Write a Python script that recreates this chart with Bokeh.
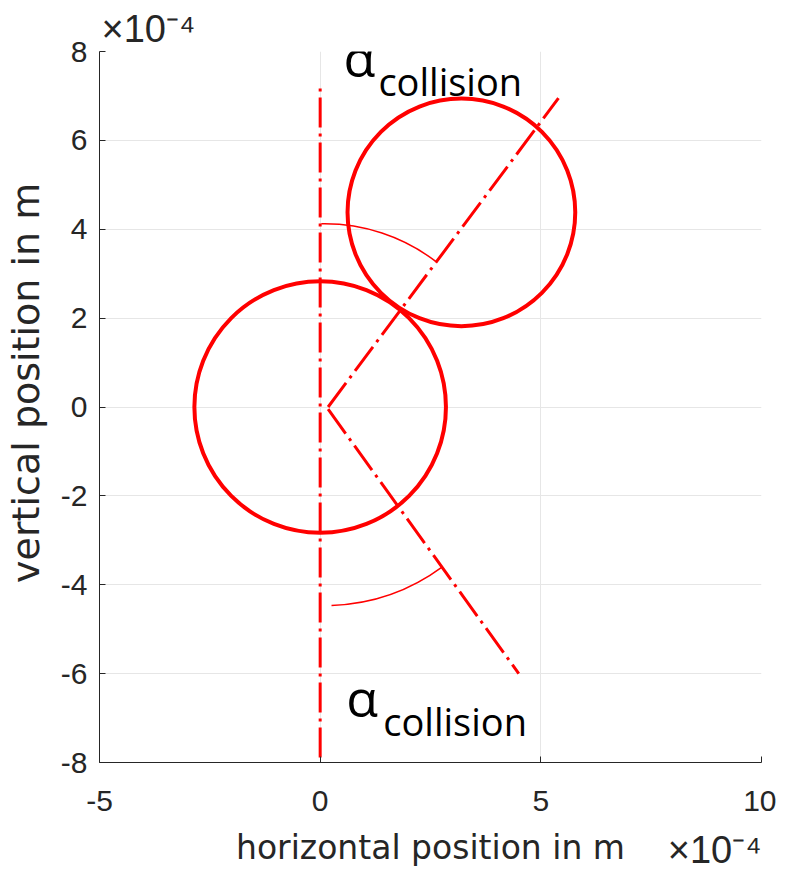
import numpy as np
from bokeh.plotting import figure
from bokeh.models import ColumnDataSource, Label, FixedTicker, Title
from bokeh.core.properties import value
from bokeh.embed import file_html
from bokeh.resources import INLINE

# ---- data (units of 1e-4 m) ----
x_ticks = [-5, 0, 5, 10]
y_ticks = [-8, -6, -4, -2, 0, 2, 4, 6, 8]

circle_x = [0.0, 3.2]
circle_y = [0.0, 4.38]
circle_r = [2.85, 2.58]

vertical_x = [0.0, 0.0]
vertical_y = [-8.9, 7.19]
upper_x = [0.18, 5.4]
upper_y = [0.0, 6.95]
lower_x = [0.18, 4.5]
lower_y = [-0.05, -6.0]

arc_x = [0.1, 0.1]
arc_y = [0.0, 0.0]
arc_r = [4.15, 4.5]
arc_start = [52.5, -88.0]
arc_end = [91.0, -53.5]

RED = "#ff0000"
DARK = "#262626"
NBSP = "\u00a0"

p = figure(
    x_range=(-5, 10), y_range=(-8, 8),
    frame_width=662, frame_height=711,
    min_border_left=93, min_border_top=51, min_border_right=15, min_border_bottom=104,
    output_backend="svg", toolbar_location=None,
    background_fill_color="white", border_fill_color="white",
)
p.outline_line_color = None

# grid
p.xgrid.ticker = FixedTicker(ticks=x_ticks)
p.ygrid.ticker = FixedTicker(ticks=y_ticks)
p.grid.grid_line_color = "#e6e6e6"
p.grid.grid_line_width = 1

# axes
p.xaxis.ticker = FixedTicker(ticks=x_ticks)
p.yaxis.ticker = FixedTicker(ticks=y_ticks)
p.xaxis.major_label_overrides = {t: str(t) for t in x_ticks}
p.yaxis.major_label_overrides = {t: str(t) for t in y_ticks}
for ax in (p.xaxis[0], p.yaxis[0]):
    ax.axis_line_color = DARK
    ax.axis_line_width = 1
    ax.major_tick_in = 6
    ax.major_tick_out = 0
    ax.major_tick_line_color = DARK
    ax.minor_tick_line_color = None
    ax.major_label_text_font = "Liberation Sans"
    ax.major_label_text_font_size = "30px"
    ax.major_label_text_color = DARK
    ax.axis_label_text_font = "DejaVu Sans"
    ax.axis_label_text_font_style = "normal"
    ax.axis_label_text_color = DARK

p.xaxis.axis_label = "horizontal position in m"
p.yaxis.axis_label = NBSP * 4 + "vertical position in m"
p.xaxis.axis_label_text_font_size = "33px"
p.yaxis.axis_label_text_font_size = "38px"
p.xaxis.major_label_standoff = 28
p.yaxis.major_label_standoff = 12
p.xaxis.axis_label_standoff = 14
p.yaxis.axis_label_standoff = 10

# exponent annotations
p.add_layout(Title(text="×10⁻⁴", align="left", text_font="Liberation Sans",
                   text_font_size="38px", text_font_style="normal",
                   text_color=DARK, standoff=4, offset=2), "above")
p.add_layout(Title(text="×10⁻⁴", align="right", vertical_align="top",
                   text_font="Liberation Sans", text_font_size="38px",
                   text_font_style="normal", text_color=DARK,
                   standoff=-82, offset=0), "below")

# circles
src_c = ColumnDataSource(dict(x=circle_x, y=circle_y, r=circle_r))
p.circle(x="x", y="y", radius="r", source=src_c, fill_color=None,
         line_color=RED, line_width=4)

# dash-dot lines
for xs, ys in ((vertical_x, vertical_y), (upper_x, upper_y), (lower_x, lower_y)):
    p.line(xs, ys, line_color=RED, line_width=3, line_dash="30 6 3 6")

# angle arcs
src_a = ColumnDataSource(dict(x=arc_x, y=arc_y, r=arc_r, s=arc_start, e=arc_end))
p.arc(x="x", y="y", radius="r", start_angle="s", end_angle="e",
      start_angle_units="deg", end_angle_units="deg", direction="anticlock",
      source=src_a, line_color=RED, line_width=1.5)

# alpha labels
for ax_x, ax_y, sub_x, sub_y in ((0.53, 7.89, 1.32, 7.33), (0.59, -6.51, 1.43, -7.07)):
    p.add_layout(Label(x=ax_x, y=ax_y, text="α", text_font="Open Sans",
                       text_font_size="52px", text_color="black",
                       text_baseline="alphabetic", text_align="left"))
    p.add_layout(Label(x=sub_x, y=sub_y, text="collision", text_font="Open Sans",
                       text_font_size="38px", text_color="black",
                       text_baseline="alphabetic", text_align="left"))

open("out.html", "w").write(file_html(p, INLINE))
